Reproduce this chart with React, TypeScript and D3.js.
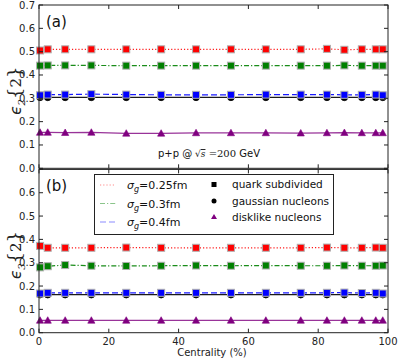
import React from "react";
import * as d3 from "d3";

const centrality = [0.3, 2.5, 7.5, 15, 25, 35, 45, 55, 65, 75, 82.5, 87.5, 92.5, 96.5, 98.5];

const e2Quark25 = [0.505, 0.51, 0.51, 0.51, 0.51, 0.51, 0.51, 0.51, 0.51, 0.51, 0.512, 0.508, 0.51, 0.51, 0.51];
const e2Quark30 = [0.44, 0.441, 0.441, 0.441, 0.44, 0.44, 0.44, 0.44, 0.44, 0.44, 0.44, 0.441, 0.44, 0.44, 0.44];
const e2Quark40 = [0.313, 0.316, 0.316, 0.318, 0.316, 0.315, 0.315, 0.315, 0.316, 0.316, 0.316, 0.315, 0.315, 0.316, 0.313];
const e2Gauss = [0.304, 0.304, 0.304, 0.304, 0.304, 0.304, 0.304, 0.304, 0.304, 0.304, 0.304, 0.304, 0.304, 0.304, 0.304];
const e2Disk = [0.154, 0.154, 0.153, 0.154, 0.15, 0.15, 0.152, 0.152, 0.152, 0.151, 0.152, 0.153, 0.152, 0.152, 0.152];

const e3Quark25 = [0.372, 0.364, 0.364, 0.364, 0.365, 0.364, 0.364, 0.364, 0.364, 0.364, 0.365, 0.364, 0.364, 0.365, 0.364];
const e3Quark30 = [0.28, 0.285, 0.29, 0.287, 0.286, 0.287, 0.288, 0.287, 0.288, 0.287, 0.287, 0.288, 0.287, 0.287, 0.288];
const e3Quark40 = [0.168, 0.171, 0.171, 0.171, 0.171, 0.171, 0.171, 0.171, 0.171, 0.171, 0.171, 0.172, 0.17, 0.171, 0.168];
const e3Gauss = [0.163, 0.163, 0.163, 0.163, 0.163, 0.163, 0.163, 0.163, 0.163, 0.163, 0.163, 0.163, 0.163, 0.163, 0.163];
const e3Disk = [0.053, 0.053, 0.053, 0.053, 0.053, 0.053, 0.053, 0.053, 0.053, 0.053, 0.053, 0.053, 0.053, 0.053, 0.053];

const xTicks = [0, 20, 40, 60, 80, 100];
const yTicks = [0, 0.1, 0.2, 0.3, 0.4, 0.5, 0.6, 0.7];

const FONT = "DejaVu Sans, sans-serif";
const L = 39, R = 388;

type Series = { values: number[]; color: string; dash: string; marker: "square" | "circle" | "triangle" };

function Marker({ kind, x, y, color, edge }: { kind: string; x: number; y: number; color: string; edge: string }) {
  if (kind === "square")
    return <rect x={x - 3.5} y={y - 3.5} width={7} height={7} fill={color} stroke={edge} strokeWidth={1} />;
  if (kind === "circle") return <circle cx={x} cy={y} r={3.3} fill={color} stroke={edge} strokeWidth={0.8} />;
  const s = 3.6;
  return (
    <path
      d={`M${x},${y - s} L${x + s},${y + s * 0.8} L${x - s},${y + s * 0.8} Z`}
      fill={color}
      stroke={edge}
      strokeWidth={0.6}
    />
  );
}

function Panel({
  top,
  bottom,
  series,
  label,
  sub,
  showTopLabel,
  showXLabels,
}: {
  top: number;
  bottom: number;
  series: Series[];
  label: string;
  sub: string;
  showTopLabel: boolean;
  showXLabels: boolean;
}) {
  const x = d3.scaleLinear().domain([0, 100]).range([L, R]);
  const y = d3.scaleLinear().domain([0, 0.7]).range([bottom, top]);
  const line = d3
    .line<number>()
    .x((_, i) => x(centrality[i]))
    .y((v) => y(v));
  // draw order: lines then markers
  return (
    <g>
      {series.map((s, k) => (
        <path key={"l" + k} d={line(s.values) || ""} fill="none" stroke={s.color} strokeWidth={1.2} strokeDasharray={s.dash} opacity={s.marker === "triangle" ? 0.8 : 0.9} />
      ))}
      {series.map((s, k) =>
        s.values.map((v, i) => (
          <Marker key={"m" + k + "_" + i} kind={s.marker} x={x(centrality[i])} y={y(v)} color={s.color} edge={s.marker === "square" ? "#b0b0b0" : s.color} />
        ))
      )}
      <rect x={L} y={top} width={R - L} height={bottom - top} fill="none" stroke="#222" strokeWidth={1} />
      {yTicks.map((t) => (
        <g key={"yt" + t}>
          <line x1={L} x2={L + 4} y1={y(t)} y2={y(t)} stroke="#222" />
          <line x1={R - 4} x2={R} y1={y(t)} y2={y(t)} stroke="#222" />
          {(t < 0.65 || showTopLabel) && (
            <text x={L - 4} y={y(t)} dy="0.35em" textAnchor="end" fontSize={10} fontFamily={FONT} fill="#222">
              {t.toFixed(1)}
            </text>
          )}
        </g>
      ))}
      {xTicks.map((t) => (
        <g key={"xt" + t}>
          <line x1={x(t)} x2={x(t)} y1={bottom} y2={bottom - 4} stroke="#222" />
          <line x1={x(t)} x2={x(t)} y1={top} y2={top + 4} stroke="#222" />
          {showXLabels && (
            <text x={x(t)} y={bottom + 12} textAnchor="middle" fontSize={10} fontFamily={FONT} fill="#222">
              {t}
            </text>
          )}
        </g>
      ))}
      <text
        transform={`translate(21,${(top + bottom) / 2 + 4}) rotate(-90)`}
        textAnchor="middle"
        fontFamily="DejaVu Serif, serif"
        fontSize={15}
        fill="#222"
      >
        <tspan fontFamily="DejaVu Sans, sans-serif" fontStyle="italic">ϵ</tspan>
        <tspan fontSize={10} dy={4} fontStyle="italic">{sub}</tspan>
        <tspan dy={-4} fontSize={18}>{"{"}</tspan>
        <tspan fontSize={15}>2</tspan>
        <tspan fontSize={18}>{"}"}</tspan>
      </text>
      <text x={46} y={top + 22} fontSize={15} fontFamily={FONT} fill="#111">
        {label}
      </text>
    </g>
  );
}

export default function App() {
  const seriesA: Series[] = [
    { values: e2Quark25, color: "#ff0000", dash: "1.2,2", marker: "square" },
    { values: e2Quark30, color: "#008000", dash: "5,2,1.2,2", marker: "square" },
    { values: e2Gauss, color: "#000000", dash: "", marker: "circle" },
    { values: e2Quark40, color: "#0000ff", dash: "6,3", marker: "square" },
    { values: e2Disk, color: "#800080", dash: "", marker: "triangle" },
  ];
  const seriesB: Series[] = [
    { values: e3Quark25, color: "#ff0000", dash: "1.2,2", marker: "square" },
    { values: e3Quark30, color: "#008000", dash: "5,2,1.2,2", marker: "square" },
    { values: e3Gauss, color: "#000000", dash: "", marker: "circle" },
    { values: e3Quark40, color: "#0000ff", dash: "6,3", marker: "square" },
    { values: e3Disk, color: "#800080", dash: "", marker: "triangle" },
  ];
  const legendLines = [
    { color: "#ff0000", dash: "1.2,2", val: "0.25", y: 185 },
    { color: "#008000", dash: "5,2,1.2,2", val: "0.3", y: 203.5 },
    { color: "#0000ff", dash: "6,3", val: "0.4", y: 222 },
  ];
  const legendMarkers = [
    { kind: "square", color: "#000", text: "quark subdivided", y: 184.5 },
    { kind: "circle", color: "#000", text: "gaussian nucleons", y: 201 },
    { kind: "triangle", color: "#800080", text: "disklike nucleons", y: 217 },
  ];
  return (
    <svg width={399} height={359} style={{ position: "absolute", left: 0, top: 0, background: "#fff" }}>
      <rect width={399} height={359} fill="#fff" />
      <Panel top={5} bottom={168.3} series={seriesA} label="(a)" sub="2" showTopLabel={true} showXLabels={false} />
      <Panel top={169.4} bottom={332.7} series={seriesB} label="(b)" sub="3" showTopLabel={false} showXLabels={true} />
      <text x={209} y={157} textAnchor="middle" fontSize={10} fontFamily={FONT} fill="#111">
        p+p @
        <tspan fontFamily="DejaVu Serif, serif" fontSize={9}> √</tspan>
        <tspan fontFamily="DejaVu Serif, serif" fontStyle="italic" fontSize={9} textDecoration="overline">s</tspan>
        <tspan fontFamily="DejaVu Serif, serif"> =200</tspan> GeV
      </text>
      <text x={212} y={356} textAnchor="middle" fontSize={10} fontFamily={FONT} fill="#222">
        Centrality (%)
      </text>
      <rect x={94.5} y={174.5} width={239} height={60} fill="#fff" stroke="#222" strokeWidth={1} />
      {legendLines.map((l, i) => (
        <g key={"ll" + i}>
          <line x1={100} x2={116} y1={l.y} y2={l.y} stroke={l.color} strokeDasharray={l.dash} strokeWidth={1.2} opacity={0.45} />
          <text x={127} y={l.y + 4} fontSize={11} fontFamily={FONT} fill="#111">
            <tspan fontStyle="italic">σ</tspan>
            <tspan fontSize={8} dy={3} fontStyle="italic">g</tspan>
            <tspan dy={-3}>=</tspan>
            {l.val + "fm"}
          </text>
        </g>
      ))}
      {legendMarkers.map((m, i) => (
        <g key={"lm" + i}>
          {m.kind === "square" && <rect x={211.5} y={m.y - 2.5} width={5} height={5} fill={m.color} />}
          {m.kind === "circle" && <circle cx={214} cy={m.y} r={2.5} fill={m.color} />}
          {m.kind === "triangle" && (
            <path d={`M214,${m.y - 3} L217,${m.y + 2} L211,${m.y + 2} Z`} fill={m.color} />
          )}
          <text x={232} y={m.y + 3.8} fontSize={10.5} fontFamily={FONT} fill="#111">
            {m.text}
          </text>
        </g>
      ))}
    </svg>
  );
}
